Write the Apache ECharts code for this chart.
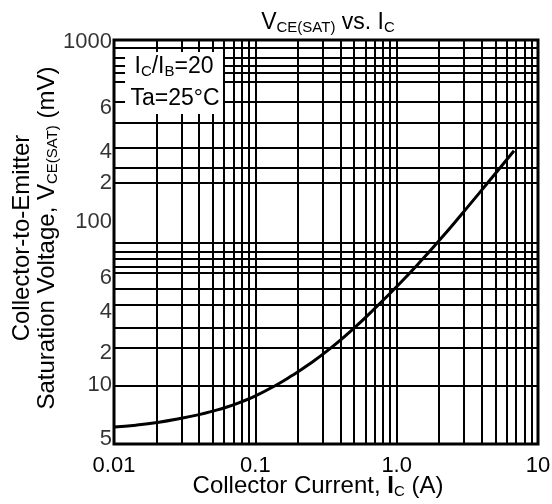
<!DOCTYPE html>
<html>
<head>
<meta charset="utf-8">
<script src="https://cdn.jsdelivr.net/npm/echarts@6/dist/echarts.min.js"></script>
<style>html,body{margin:0;padding:0;background:#fff;}#c{width:552px;height:504px;}</style>
</head>
<body>
<div id="c"></div>
<script>
// Curve readings: collector current (A) and VCE(SAT) (mV)
const currentA = [0.01, 0.0143, 0.0208, 0.0293, 0.0400, 0.0502, 0.0630, 0.0779, 0.0995, 0.138, 0.182, 0.240, 0.343, 0.499, 0.714, 1.039, 1.439, 2.026, 2.853, 3.824, 5.046, 6.767];
const vcesatMv = [6.25, 6.40, 6.65, 6.98, 7.35, 7.70, 8.12, 8.63, 9.37, 10.74, 12.28, 14.22, 17.62, 22.83, 30.03, 40.61, 53.62, 72.98, 100.8, 133.8, 175.5, 234.2];

// Grid line positions as drawn in the chart
const xGridVals = [0.02,0.03,0.04,0.05,0.06,0.07,0.08,0.09,0.1,0.2,0.3,0.4,0.5,0.6,0.7,0.8,0.9,1,2,3,4,5,6,7,8,9];
const yGridVals = [900, 790, 711, 649, 577, 443, 337, 243, 187, 153, 69.8, 62.0, 56.6, 50.9, 47.1, 38.2, 30.9, 22.9, 17.6, 10.7];

// Y tick labels as printed, with their positions on the axis
const yTickTexts = ['1000','6','4','2','100','6','4','2','10','5'];
const yTickVals  = [974, 410, 230, 153, 91.9, 44.1, 28.2, 16.5, 10.8, 5.34];

// X tick labels
const xTickVals = [0.01, 0.1, 1, 10];
const xTickTexts = ['0.01', '0.1', '1.0', '10'];

const FONT = 'Liberation Sans, Arial, sans-serif';
const TICK = 22;
const richM = {fontFamily: FONT, fontSize: 24, fontWeight: 'normal', color: '#000', lineHeight: 25};
const richS = {fontFamily: FONT, fontSize: 15, fontWeight: 'normal', color: '#000', lineHeight: 16, verticalAlign: 'bottom'};
const richB = {fontFamily: FONT, fontSize: 24, color: '#000', lineHeight: 25, fontWeight: 'bold'};
const richBoxM = {fontFamily: FONT, fontSize: 23, fontWeight: 'normal', color: '#000', lineHeight: 25};
const richBoxS = {fontFamily: FONT, fontSize: 15, fontWeight: 'normal', color: '#000', lineHeight: 16, verticalAlign: 'bottom'};

const chart = echarts.init(document.getElementById('c'), null, {renderer: 'canvas'});

function xLabel(v) {
  let best = 0, bd = Infinity;
  xTickVals.forEach((t, i) => { const d = Math.abs(Math.log10(v) - Math.log10(t)); if (d < bd) { bd = d; best = i; } });
  return xTickTexts[best];
}

const option = {
  animation: false,
  backgroundColor: '#fff',
  title: [{
    text: '{m|V}{s|CE(SAT)}{m| vs. I}{s|C}',
    left: 328,
    top: 10,
    textAlign: 'center',
    padding: 0,
    textStyle: {fontWeight: 'normal', rich: {m: Object.assign({}, richM, {fontSize: 23}), s: richS}}
  }],
  grid: {
    left: 114, right: 14, top: 40, bottom: 60,
    containLabel: false, outerBoundsMode: 'none',
    show: true, borderColor: '#000', borderWidth: 3, backgroundColor: 'transparent'
  },
  xAxis: {
    type: 'log', logBase: 10, min: 0.01, max: 10,
    axisLine: {show: false}, axisTick: {show: false},
    splitLine: {show: false}, minorSplitLine: {show: false},
    axisLabel: {
      fontFamily: FONT, fontSize: TICK, color: '#000', margin: 11,
      formatter: xLabel
    },
    name: '{m|Collector Current, }{b|I}{s|C}{m| (A)}',
    nameLocation: 'middle', nameGap: 30, nameMoveOverlap: false,
    nameTextStyle: {padding: [0, 16, 0, 0], rich: {m: richM, s: richS, b: richB}}
  },
  yAxis: {
    type: 'log', logBase: 10, min: 5, max: 1000,
    axisLine: {show: false}, axisTick: {show: false},
    splitLine: {show: false}, minorSplitLine: {show: false},
    axisLabel: {show: false},
    name: '{m|Collector-to-Emitter}\n{m|Saturation Voltage, V}{s|CE(SAT)}{m| (mV)}',
    nameLocation: 'middle', nameRotate: 90, nameGap: 54, nameMoveOverlap: false,
    nameTextStyle: {padding: [0, 0, 0, 8], rich: {m: richM, s: richS}}
  },
  graphic: [
    {type: 'rect', z: 100, shape: {x: 125, y: 52, width: 98, height: 62}, style: {fill: '#fff'}},
    {type: 'text', z: 101, x: 174, y: 67, style: {
      text: '{m|I}{s|C}{m|/I}{s|B}{m|=20}', align: 'center', verticalAlign: 'middle',
      rich: {m: richBoxM, s: richBoxS}}},
    {type: 'text', z: 101, x: 175, y: 99, style: {
      text: 'Ta=25°C', align: 'center', verticalAlign: 'middle',
      fill: '#000', font: '23px ' + FONT}}
  ],
  series: [
    {
      type: 'scatter', z: 1, silent: true,
      symbolSize: 0,
      data: yTickVals.map((v, i) => ({name: yTickTexts[i], value: [0.01, v]})),
      label: {show: true, position: 'left', distance: 2, formatter: '{b}',
              fontFamily: FONT, fontSize: TICK, color: '#000'},
      markLine: {
        silent: true, symbol: ['none', 'none'], animation: false,
        label: {show: false},
        lineStyle: {color: '#000', width: 2, type: 'solid'},
        emphasis: {disabled: true},
        data: xGridVals.map(v => ({xAxis: v})).concat(yGridVals.map(v => ({yAxis: v})))
      }
    },
    {
      type: 'line', z: 5, silent: true,
      smooth: true, showSymbol: false,
      lineStyle: {color: '#000', width: 3},
      data: currentA.map((x, i) => [x, vcesatMv[i]])
    }
  ]
};
chart.setOption(option);
</script>
</body>
</html>
